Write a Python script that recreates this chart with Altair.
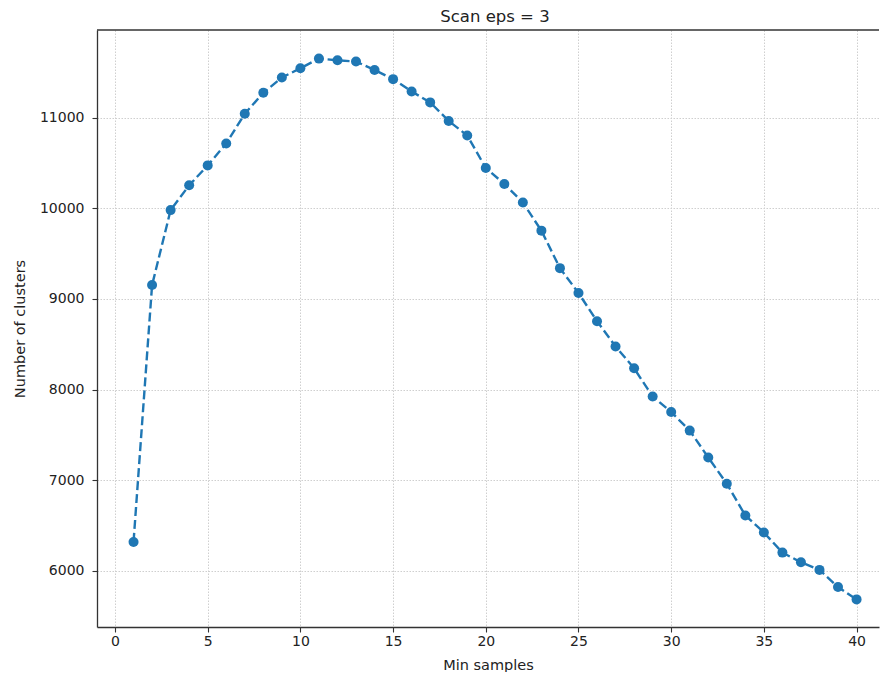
import altair as alt
import pandas as pd

min_samples = list(range(1, 41))
n_clusters = [6316, 9154, 9982, 10256, 10476, 10718, 11047, 11278, 11447, 11549,
              11656, 11637, 11623, 11531, 11429, 11293, 11172, 10967, 10806, 10447,
              10271, 10066, 9755, 9341, 9066, 8755, 8476, 8234, 7923, 7751,
              7546, 7249, 6959, 6608, 6421, 6198, 6091, 6007, 5817, 5681]
x_ticks = [0, 5, 10, 15, 20, 25, 30, 35, 40]
y_ticks = [6000, 7000, 8000, 9000, 10000, 11000]

df = pd.DataFrame({"Min samples": min_samples, "Number of clusters": n_clusters})

W, H = 782, 597
BLUE = "#1f77b4"
FONT = "DejaVu Sans"

xs = alt.Scale(domain=[-0.971, 41.21], nice=False, zero=False)
ys = alt.Scale(domain=[5376, 11972], nice=False, zero=False)

xenc = alt.X("Min samples:Q", scale=xs,
             axis=alt.Axis(values=x_ticks, title="Min samples", format="d",
                           titlePadding=10))
yenc = alt.Y("Number of clusters:Q", scale=ys,
             axis=alt.Axis(values=y_ticks, title="Number of clusters", format="d",
                           titleX=-77, titleBaseline="middle", labelPadding=8))

base = alt.Chart(df)
line = base.mark_line(color=BLUE, strokeWidth=2.4, strokeDash=[9, 4]).encode(x=xenc, y=yenc)
pts = base.mark_circle(color=BLUE, opacity=1, size=100).encode(x=xenc, y=yenc)

top = alt.Chart(pd.DataFrame({"a": [0]})).mark_rule(color="#333333", strokeWidth=1.3).encode(
    x=alt.value(0), x2=alt.value(W), y=alt.value(0))

chart = alt.layer(line, pts, top).properties(
    width=W, height=H,
    padding={"left": 89, "top": 22, "right": 2, "bottom": 45},
    autosize=alt.AutoSizeParams(type="none"),
    title=alt.TitleParams("Scan eps = 3", fontSize=16.5, fontWeight="normal",
                          font=FONT, color="#222222", offset=4, dx=7),
).configure_view(stroke=None).configure_axis(
    labelFont=FONT, titleFont=FONT, labelFontSize=14, titleFontSize=14.5,
    titleFontWeight="normal", labelColor="#222222", titleColor="#222222",
    domainColor="#333333", domainWidth=1.3, tickColor="#333333", tickSize=5,
    tickWidth=1.1, grid=True, gridColor="#cfcfcf", gridDash=[1.5, 1.5], gridWidth=1,
)

chart.save("out.html", embed_options={"renderer": "svg", "actions": False})
